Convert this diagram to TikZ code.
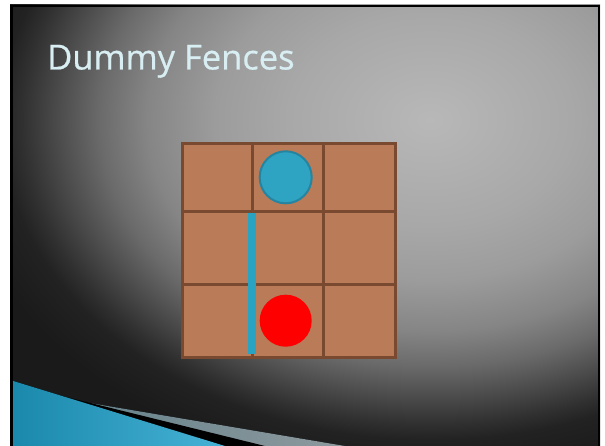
\documentclass[tikz,border=0pt]{standalone}
\usepackage{fontspec}
\newfontfamily\titlefont[FakeBold=0.6]{Open Sans}
\definecolor{bg0}{HTML}{B8B8B8}
\definecolor{bg1}{HTML}{A8A8A8}
\definecolor{bg2}{HTML}{9C9C9C}
\definecolor{bg3}{HTML}{858585}
\definecolor{bg4}{HTML}{6A6A6A}
\definecolor{bg5}{HTML}{4A4A4A}
\definecolor{bg6}{HTML}{303030}
\definecolor{bg7}{HTML}{222222}
\definecolor{bg8}{HTML}{1A1A1A}
\definecolor{cellfill}{HTML}{B97B58}
\definecolor{cellline}{HTML}{7A4A30}
\definecolor{tokenblue}{HTML}{2EA4C2}
\definecolor{tokenedge}{HTML}{2584A0}
\definecolor{fenceblue}{HTML}{2AA2C2}
\definecolor{titlecol}{HTML}{D8EEF2}
\definecolor{swblueA}{HTML}{1A88AA}
\definecolor{swblueB}{HTML}{46B3D6}
\definecolor{swgrayA}{HTML}{62808A}
\definecolor{swgrayB}{HTML}{8E9A9E}
\pgfdeclareradialshading{slidebg}{\pgfpoint{0bp}{0bp}}{%
  color(0bp)=(bg0); color(4.125bp)=(bg1); color(6.25bp)=(bg2);
  color(8.25bp)=(bg3); color(9.625bp)=(bg4); color(10.875bp)=(bg5);
  color(11.875bp)=(bg6); color(12.5bp)=(bg7); color(14bp)=(bg8); color(50bp)=(bg8)}
\tikzset{
  gridline/.style={draw=cellline, line width=3pt},
  titletext/.style={anchor=base west, inner sep=0pt, text=titlecol, font=\titlefont\fontsize{34.5}{40}\selectfont},
}
\begin{document}
\begin{tikzpicture}[x=1pt,y=-1pt]
\useasboundingbox (0,0) rectangle (605,446);
\fill[white] (0,0) rectangle (605,446);
% slide background
\begin{scope}
\clip (10,5) rectangle (600,446);
\fill[bg8] (10,5) rectangle (600,446);
\shade[shading=slidebg] (430,120) ellipse[x radius=860, y radius=640];
% swoosh
\fill[left color=swgrayA, right color=swgrayB] (60,398) -- (345,446) -- (150,446) -- cycle;
\fill[black] (50,393) -- (265,446) -- (100,446) -- cycle;
\fill[left color=swblueA, right color=swblueB] (10,380) -- (225,446) -- (10,446) -- cycle;
\end{scope}
\draw[black, line width=2.5pt] (11.25,448) -- (11.25,6.25) -- (598.75,6.25) -- (598.75,448);
% title
\node[titletext] (title) at (47,69.5) {Dummy Fences};
% grid
\fill[cellfill] (182,144) rectangle (395,357);
\node[inner sep=0pt, minimum size=0pt] (grid) at (288.5,250.5) {};
\draw[gridline] (182,144) rectangle (395,357);
\draw[gridline] (252,144) -- (252,357);
\draw[gridline] (323,144) -- (323,357);
\draw[gridline] (182,212) -- (395,212);
\draw[gridline] (182,285) -- (395,285);
% fence
\fill[fenceblue] (247.5,213) rectangle (256,354);
% tokens
\node[circle, minimum size=52pt, inner sep=0pt, fill=tokenblue, draw=tokenedge, line width=2pt] (blue) at (285.7,177.3) {};
\node[circle, minimum size=52pt, inner sep=0pt, fill=red] (red) at (285.7,320.7) {};
\end{tikzpicture}
\end{document}
